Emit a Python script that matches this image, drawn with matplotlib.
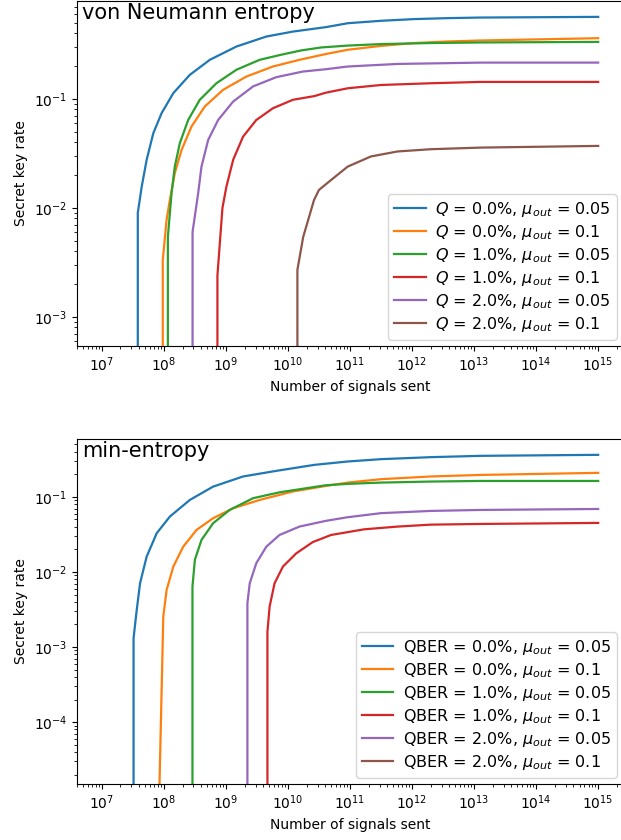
import matplotlib
matplotlib.use("Agg")
import matplotlib.pyplot as plt

# ---------------- data: von Neumann entropy panel ----------------
vn_blue_n = [3.78e7, 3.8e7, 4.40e7, 5.28e7, 6.76e7, 9.20e7, 1.42e8, 2.62e8, 5.50e8, 1.48e9, 4.48e9, 1.20e10,
             4.11e10, 9.19e10, 3.15e11, 1.08e12, 3.72e12, 1.27e13, 1e15]
vn_blue_r = [0, 0.0090, 0.0157, 0.0276, 0.0484, 0.074, 0.1128, 0.166, 0.228, 0.302, 0.373, 0.414,
             0.455, 0.494, 0.520, 0.539, 0.550, 0.557, 0.565]

vn_orange_n = [9.55e7, 9.6e7, 1.107e8, 1.25e8, 1.50e8, 1.93e8, 2.79e8, 4.56e8, 9.02e8, 2.13e9, 5.73e9, 1.53e10,
               4.11e10, 9.19e10, 3.15e11, 1.08e12, 3.72e12, 1.27e13, 1e15]
vn_orange_r = [0, 0.0033, 0.0078, 0.0118, 0.0208, 0.034, 0.0557, 0.085, 0.121, 0.160, 0.198, 0.228,
               0.258, 0.282, 0.306, 0.325, 0.336, 0.343, 0.360]

vn_green_n = [1.15e8, 1.16e8, 1.33e8, 1.50e8, 1.81e8, 2.47e8, 3.79e8, 7.03e8, 1.48e9, 3.49e9, 7.80e9, 1.63e10,
              3.42e10, 9.19e10, 3.15e11, 2.0e12, 1.27e13, 1e15]
vn_green_r = [0, 0.0054, 0.0136, 0.0239, 0.0393, 0.0641, 0.098, 0.139, 0.185, 0.228, 0.254, 0.278,
              0.296, 0.308, 0.318, 0.325, 0.329, 0.333]

vn_red_n = [7.24e8, 7.3e8, 8.8e8, 1.02e9, 1.31e9, 1.89e9, 3.09e9, 5.73e9, 1.20e10, 2.67e10, 4.11e10, 9.19e10,
            3.15e11, 2.0e12, 1.27e13, 1e15]
vn_red_r = [0, 0.0024, 0.010, 0.0157, 0.0276, 0.045, 0.064, 0.082, 0.098, 0.106, 0.114, 0.125,
            0.134, 0.139, 0.143, 0.143]

vn_purple_n = [2.88e8, 2.9e8, 3.57e8, 4.04e8, 5.18e8, 7.50e8, 1.31e9, 2.74e9, 6.47e9, 1.74e10, 4.11e10, 9.19e10,
               5.83e11, 1.27e13, 1e15]
vn_purple_r = [0, 0.0060, 0.0136, 0.0239, 0.042, 0.064, 0.0945, 0.130, 0.158, 0.178, 0.187, 0.198,
               0.209, 0.215, 0.215]

vn_brown_n = [1.41e10, 1.42e10, 1.76e10, 2.63e10, 3.16e10, 4.95e10, 9.19e10, 2.17e11, 5.83e11, 2.0e12, 1.27e13, 1e15]
vn_brown_r = [0, 0.0027, 0.0054, 0.0118, 0.0146, 0.018, 0.0239, 0.0296, 0.0329, 0.0345, 0.0357, 0.037]

# ---------------- data: min-entropy panel ----------------
me_blue_n = [3.23e7, 3.25e7, 3.65e7, 4.13e7, 5.28e7, 7.66e7, 1.25e8, 2.62e8, 6.22e8, 1.89e9, 6.47e9, 2.67e10,
             9.19e10, 3.15e11, 2.0e12, 1.27e13, 1e15]
me_blue_r = [0, 0.00132, 0.0031, 0.00706, 0.016, 0.0328, 0.0547, 0.091, 0.137, 0.187, 0.222, 0.267,
             0.296, 0.318, 0.338, 0.352, 0.363]

me_orange_n = [7.9e7, 9.79e7, 1.107e8, 1.42e8, 2.05e8, 3.36e8, 6.22e8, 1.31e9, 3.49e9, 1.20e10, 4.11e10, 9.19e10,
               3.15e11, 2.0e12, 1.27e13, 1e15]
me_orange_r = [1e-6, 0.00254, 0.00575, 0.0118, 0.0217, 0.0363, 0.052, 0.0706, 0.091, 0.118, 0.140, 0.155,
               0.172, 0.187, 0.196, 0.209]

me_green_n = [2.88e8, 2.89e8, 3.16e8, 4.04e8, 6.22e8, 1.15e9, 2.74e9, 7.31e9, 4.11e10, 9.19e10, 3.15e11, 2.0e12,
              1.27e13, 1e15]
me_green_r = [0, 0.0064, 0.0145, 0.0267, 0.0446, 0.067, 0.096, 0.115, 0.143, 0.149, 0.155, 0.160,
              0.163, 0.163]

me_red_n = [4.65e9, 4.67e9, 5.06e9, 6.08e9, 8.30e9, 1.36e10, 2.51e10, 4.95e10, 1.70e11, 5.83e11, 2.0e12, 1.27e13, 1e15]
me_red_r = [0, 0.0016, 0.00345, 0.00706, 0.0118, 0.0177, 0.025, 0.0311, 0.037, 0.0402, 0.0427, 0.0436, 0.045]

me_purple_n = [2.21e9, 2.22e9, 2.42e9, 3.09e9, 4.48e9, 7.31e9, 1.53e10, 4.11e10, 9.19e10, 3.15e11, 2.0e12, 1.27e13, 1e15]
me_purple_r = [0, 0.00383, 0.00706, 0.0131, 0.0217, 0.0311, 0.0402, 0.048, 0.0536, 0.0607, 0.065, 0.067, 0.069]

me_brown_n = [1e7, 1e15]
me_brown_r = [0, 0]

qber = ["0.0", "0.0", "1.0", "1.0", "2.0", "2.0"]
mu_out = ["0.05", "0.1", "0.05", "0.1", "0.05", "0.1"]
colors = ["#1f77b4", "#ff7f0e", "#2ca02c", "#d62728", "#9467bd", "#8c564b"]

vn_series = [(vn_blue_n, vn_blue_r), (vn_orange_n, vn_orange_r), (vn_green_n, vn_green_r),
             (vn_red_n, vn_red_r), (vn_purple_n, vn_purple_r), (vn_brown_n, vn_brown_r)]
me_series = [(me_blue_n, me_blue_r), (me_orange_n, me_orange_r), (me_green_n, me_green_r),
             (me_red_n, me_red_r), (me_purple_n, me_purple_r), (me_brown_n, me_brown_r)]

fig = plt.figure(figsize=(6.21, 8.40), dpi=100)
W, H = 621, 840
ax1 = fig.add_axes([77 / W, 1 - 346 / H, (623 - 77) / W, (346 - 1) / H])
ax2 = fig.add_axes([77 / W, 1 - 784 / H, (623 - 77) / W, (784 - 439) / H])

for ax, series, prefix, title, ylim in [
    (ax1, vn_series, "$Q$", "von Neumann entropy", (5.4e-4, 0.79)),
    (ax2, me_series, "QBER", "min-entropy", (1.5e-5, 0.59)),
]:
    for (n, r), c, q, m in zip(series, colors, qber, mu_out):
        ax.plot(n, r, color=c, lw=1.6,
                label=f"{prefix} = {q}%, $\\mu_{{out}}$ = {m}")
    ax.set_xscale("log")
    ax.set_yscale("log")
    ax.set_xlim(10 ** 6.6, 10 ** 15.4)
    ax.set_ylim(*ylim)
    ax.set_xlabel("Number of signals sent", fontsize=10)
    ax.set_ylabel("Secret key rate", fontsize=10)
    ax.text(0.01, 0.995, title, transform=ax.transAxes, ha="left", va="top", fontsize=15)
    ax.legend(loc="lower right", fontsize=11.5, labelspacing=0.25, borderpad=0.35,
              handletextpad=0.6, borderaxespad=0.4)

fig.savefig("out.png", dpi=100)
